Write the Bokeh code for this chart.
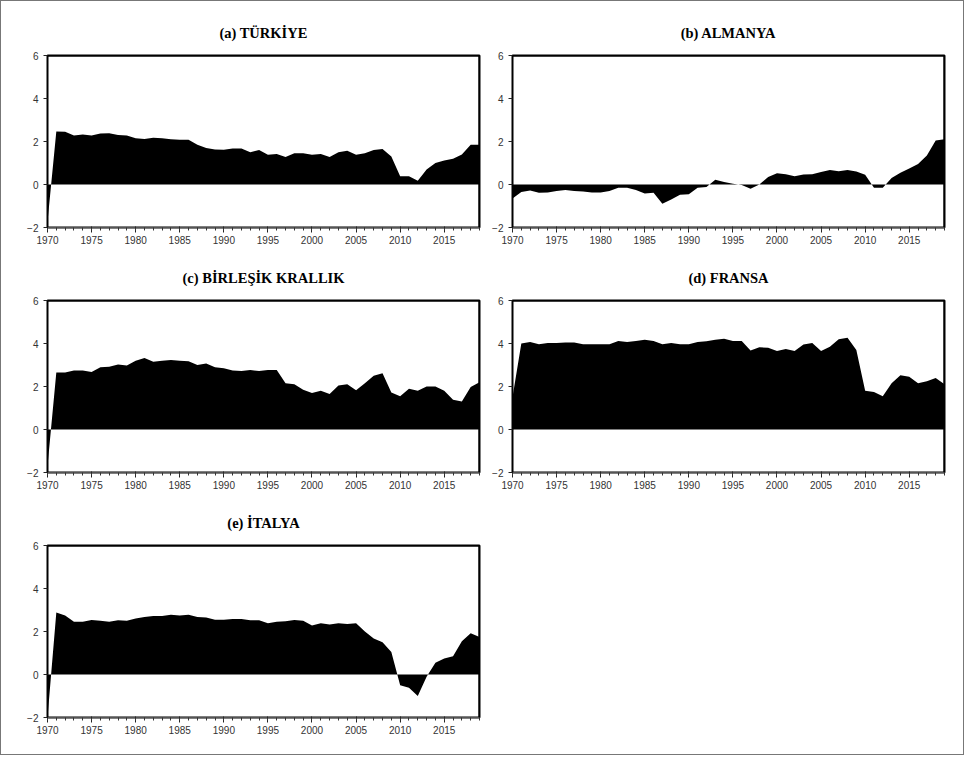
from bokeh.plotting import figure
from bokeh.models import Range1d, FixedTicker, SingleIntervalTicker, Span
from bokeh.layouts import gridplot, column
from bokeh.embed import file_html
from bokeh.resources import INLINE

years = list(range(1970, 2020))

turkiye = [-1.73, 2.47, 2.45, 2.28, 2.33, 2.28, 2.37, 2.38, 2.30, 2.28,
           2.15, 2.12, 2.18, 2.15, 2.10, 2.08, 2.08, 1.85, 1.70, 1.63,
           1.62, 1.68, 1.68, 1.50, 1.60, 1.38, 1.42, 1.28, 1.45, 1.45,
           1.38, 1.42, 1.28, 1.50, 1.57, 1.38, 1.45, 1.60, 1.65, 1.30,
           0.38, 0.38, 0.18, 0.70, 1.00, 1.12, 1.20, 1.40, 1.85, 1.85]

almanya = [-0.65, -0.35, -0.28, -0.38, -0.37, -0.30, -0.25, -0.30, -0.33, -0.37,
           -0.37, -0.30, -0.15, -0.15, -0.25, -0.42, -0.38, -0.90, -0.70, -0.48,
           -0.45, -0.15, -0.12, 0.22, 0.12, 0.03, -0.02, -0.20, 0.00, 0.35,
           0.52, 0.48, 0.38, 0.47, 0.48, 0.58, 0.67, 0.62, 0.67, 0.60,
           0.45, -0.15, -0.15, 0.30, 0.55, 0.75, 0.95, 1.35, 2.05, 2.10]

birlesik = [-1.70, 2.65, 2.65, 2.75, 2.75, 2.68, 2.90, 2.92, 3.02, 2.98,
            3.20, 3.33, 3.15, 3.20, 3.23, 3.20, 3.18, 3.00, 3.07, 2.90,
            2.85, 2.75, 2.72, 2.77, 2.72, 2.77, 2.77, 2.15, 2.10, 1.85,
            1.70, 1.80, 1.65, 2.05, 2.10, 1.82, 2.15, 2.50, 2.62, 1.72,
            1.55, 1.90, 1.80, 2.00, 2.00, 1.80, 1.38, 1.30, 1.98, 2.20]

fransa = [1.50, 4.00, 4.07, 3.97, 4.02, 4.02, 4.05, 4.05, 3.97, 3.97,
          3.97, 3.97, 4.12, 4.07, 4.12, 4.17, 4.12, 3.97, 4.02, 3.97,
          3.97, 4.07, 4.10, 4.17, 4.22, 4.12, 4.12, 3.68, 3.82, 3.80,
          3.65, 3.75, 3.65, 3.95, 4.02, 3.65, 3.85, 4.20, 4.27, 3.70,
          1.80, 1.75, 1.55, 2.15, 2.52, 2.45, 2.15, 2.25, 2.40, 2.10]

italya = [-2.00, 2.88, 2.75, 2.45, 2.45, 2.53, 2.50, 2.45, 2.52, 2.50,
          2.60, 2.68, 2.72, 2.72, 2.78, 2.75, 2.78, 2.68, 2.65, 2.55,
          2.55, 2.58, 2.58, 2.52, 2.52, 2.38, 2.45, 2.48, 2.53, 2.50,
          2.28, 2.38, 2.33, 2.38, 2.35, 2.38, 2.00, 1.68, 1.50, 1.05,
          -0.50, -0.62, -1.00, -0.10, 0.55, 0.75, 0.85, 1.55, 1.92, 1.75]

titles = ["(a) TÜRKİYE", "(b) ALMANYA", "(c) BİRLEŞİK KRALLIK", "(d) FRANSA", "(e) İTALYA"]
series = [turkiye, almanya, birlesik, fransa, italya]
y_ticks = [-2, 0, 2, 4, 6]
x_start, x_end = 1970, 2019
y_start, y_end = -2, 6

FW, FH = 432, 172


def make_panel(title, vals, col, row):
    left = 46 if col == 0 else 28
    right = 5 if col == 0 else 19
    top = 54 if row == 0 else 48
    bottom = 37 if row == 2 else 25
    p = figure(frame_width=FW, frame_height=FH, output_backend="svg",
               toolbar_location=None, x_range=Range1d(x_start, x_end),
               y_range=Range1d(y_start, y_end), min_border_left=left,
               min_border_right=right, min_border_top=top,
               min_border_bottom=bottom, title=title)
    p.title.align = "center"
    p.title.text_font = "Liberation Serif"
    p.title.text_font_style = "bold"
    p.title.text_font_size = "14.5px"
    p.title.text_color = "black"
    p.title.standoff = 29
    p.outline_line_color = "black"
    p.outline_line_width = 2
    p.background_fill_color = "white"
    p.border_fill_color = "white"
    p.xgrid.visible = False
    p.ygrid.visible = False

    p.varea(x=years, y1=[0] * len(vals), y2=vals, fill_color="black")

    # top and right frame edges
    p.add_layout(Span(location=y_end, dimension="width", line_color="black", line_width=2))
    p.add_layout(Span(location=x_end, dimension="height", line_color="black", line_width=2))

    xa = p.xaxis[0]
    xa.ticker = SingleIntervalTicker(interval=5, num_minor_ticks=5)
    xa.axis_line_color = "#555555"
    xa.major_tick_out = 5
    xa.major_tick_in = 1
    xa.minor_tick_out = 3
    xa.minor_tick_in = 0
    xa.major_tick_line_color = "#222222"
    xa.minor_tick_line_color = "#333333"
    xa.major_label_standoff = 3
    xa.major_label_text_font = "Liberation Sans"
    xa.major_label_text_font_size = "10px"
    xa.major_label_text_color = "#333333"

    ya = p.yaxis[0]
    ya.ticker = FixedTicker(ticks=y_ticks)
    ya.axis_line_color = "black"
    ya.major_tick_out = 4
    ya.major_tick_in = 0
    ya.minor_tick_out = 0
    ya.minor_tick_in = 0
    ya.major_tick_line_color = "#222222"
    ya.major_label_standoff = 5
    ya.major_label_text_font = "Liberation Sans"
    ya.major_label_text_font_size = "10px"
    ya.major_label_text_color = "#333333"
    return p


panels = [make_panel(titles[i], series[i], i % 2, i // 2) for i in range(5)]

grid = gridplot(children=[[panels[0], panels[1]], [panels[2], panels[3]], [panels[4], None]],
                toolbar_location=None)
layout = column(grid, styles={"border": "1px solid #777777"})

open("out.html", "w").write(file_html(layout, INLINE))
